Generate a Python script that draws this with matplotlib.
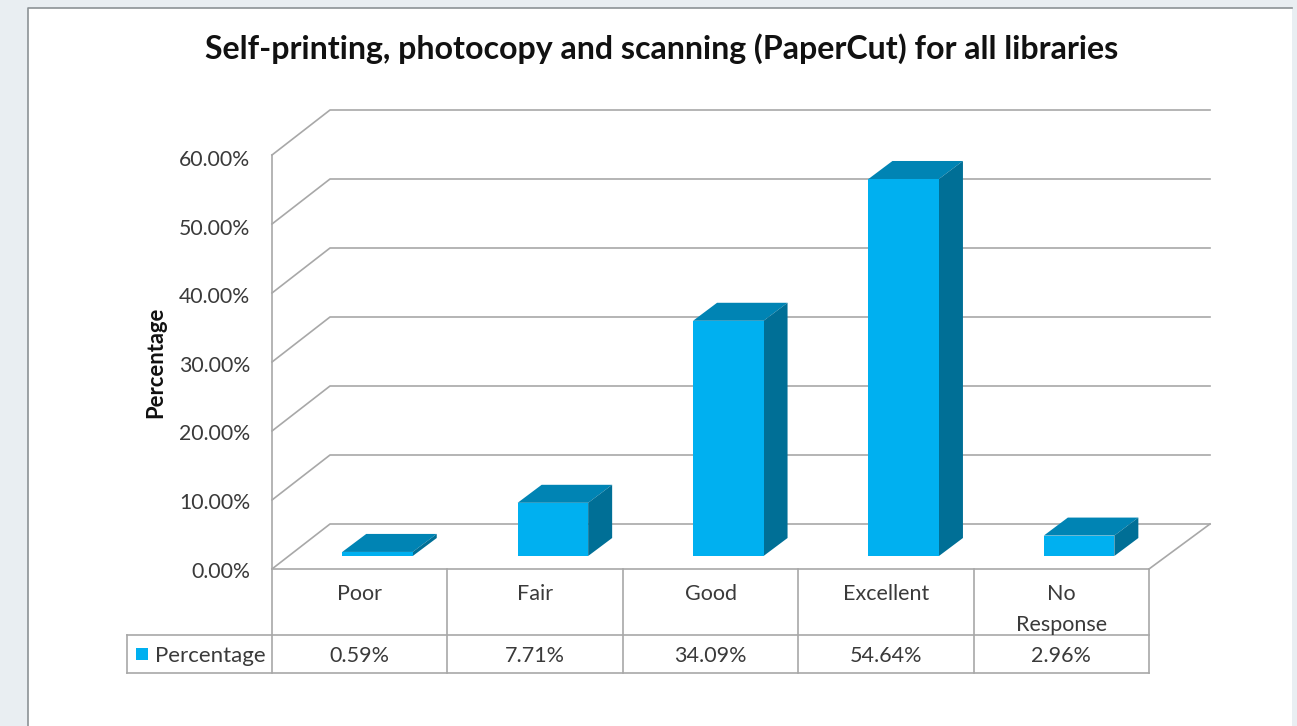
import matplotlib
matplotlib.use('Agg')
import matplotlib.pyplot as plt
from matplotlib.patches import Polygon, Rectangle

plt.rcParams['font.family'] = ['Lato', 'DejaVu Sans']

categories = ['Poor', 'Fair', 'Good', 'Excellent', 'No\nResponse']
values = [0.59, 7.71, 34.09, 54.64, 2.96]
value_labels = ['0.59%', '7.71%', '34.09%', '54.64%', '2.96%']
y_ticks = [0, 10, 20, 30, 40, 50, 60]
y_tick_labels = ['0.00%', '10.00%', '20.00%', '30.00%', '40.00%', '50.00%', '60.00%']
series_name = 'Percentage'
title = 'Self-printing, photocopy and scanning (PaperCut) for all libraries'

W, H = 1297, 726
GRID = '#a8a8a8'
TEXT = '#3a3a3a'
FRONT = '#00b0f0'
TOP = '#0084b4'
SIDE = '#006f96'

# one category and one percent in pixels, plot origin at (272, 569)
CAT_PX = 175.4
PCT_PX = 6.9
X0, Y0 = 272, 569


def px_x(p):
    return (p - X0) / CAT_PX


def px_y(p):
    return (Y0 - p) / PCT_PX


# depth of the floor and of the bars, in data units
floor_dx, floor_dy = 58 / CAT_PX, 45 / PCT_PX
bar_dx, bar_dy = 24 / CAT_PX, 18 / PCT_PX
bar_w = 70.5 / CAT_PX
bar_off_x, bar_off_y = 17.8 / CAT_PX, 13 / PCT_PX
n = len(categories)

fig = plt.figure(figsize=(W / 100, H / 100), dpi=100, facecolor='#e9eef2')
ax = fig.add_axes([0, 0, 1, 1])
ax.set_xlim(px_x(0), px_x(W))
ax.set_ylim(px_y(H), px_y(0))
ax.axis('off')

# white chart area with its border
ax.add_patch(Rectangle((px_x(28), px_y(726)), px_x(1292) - px_x(28), px_y(8) - px_y(726),
                       facecolor='white', edgecolor='none', zorder=0))
ax.plot([px_x(28), px_x(28), px_x(1292)], [px_y(726), px_y(8), px_y(8)], color='#8c9296', lw=1.2, zorder=1)


def line(xs, ys, lw=1.2):
    ax.plot(xs, ys, color=GRID, lw=lw, solid_capstyle='projecting', zorder=2)


# walls
for t in y_ticks:
    line([0, floor_dx, px_x(1210)], [t, t + floor_dy, t + floor_dy])
line([0, 0], [0, y_ticks[-1]])
line([n, px_x(1210)], [0, floor_dy])
line([0, n], [0, 0])

# data table grid
tbl_mid = px_y(635)
tbl_bot = px_y(673)
line([px_x(127), n], [tbl_mid, tbl_mid])
line([px_x(127), n], [tbl_bot, tbl_bot])
line([px_x(127), px_x(127)], [tbl_mid, tbl_bot])
for i in range(n + 1):
    line([i, i], [0, tbl_bot])

# bars, front face drawn over the top and side faces
for i, v in enumerate(values):
    x = i + 0.5 - bar_w / 2 + bar_off_x
    y = bar_off_y
    ax.add_patch(Polygon([(x, y + v), (x + bar_dx, y + v + bar_dy), (x + bar_w + bar_dx, y + v + bar_dy), (x + bar_w, y + v)],
                         facecolor=TOP, edgecolor='none', zorder=3))
    ax.add_patch(Polygon([(x + bar_w, y), (x + bar_w + bar_dx, y + bar_dy), (x + bar_w + bar_dx, y + v + bar_dy), (x + bar_w, y + v)],
                         facecolor=SIDE, edgecolor='none', zorder=3))
    ax.add_patch(Rectangle((x, y), bar_w, v, facecolor=FRONT, edgecolor='none', zorder=4))

# labels
ax.text(px_x(662), px_y(49), title, ha='center', va='center', fontsize=23.1, fontweight='bold', color='#111111')
ax.text(px_x(156), px_y(362), series_name, ha='center', va='center', rotation=90, fontsize=15.8, fontweight='bold', color='#111111')
for t, lab in zip(y_ticks, y_tick_labels):
    ax.text(px_x(250), t * 0.993 - 2.5 / PCT_PX, lab, ha='right', va='center', fontsize=15.3, color=TEXT)
for i, cat in enumerate(categories):
    parts = cat.split('\n')
    for j, part in enumerate(parts):
        ax.text(i + 0.5, px_y(594 + 31 * j), part, ha='center', va='center', fontsize=15.5, color=TEXT)
    ax.text(i + 0.5, px_y(656), value_labels[i], ha='center', va='center', fontsize=15.5, color=TEXT)

# legend key
ax.add_patch(Rectangle((px_x(136), px_y(660)), px_x(148) - px_x(136), px_y(648) - px_y(660),
                       facecolor=FRONT, edgecolor='none', zorder=4))
ax.text(px_x(155), px_y(656), series_name, ha='left', va='center', fontsize=16, color=TEXT)

fig.savefig('out.png', dpi=100, facecolor=fig.get_facecolor())
